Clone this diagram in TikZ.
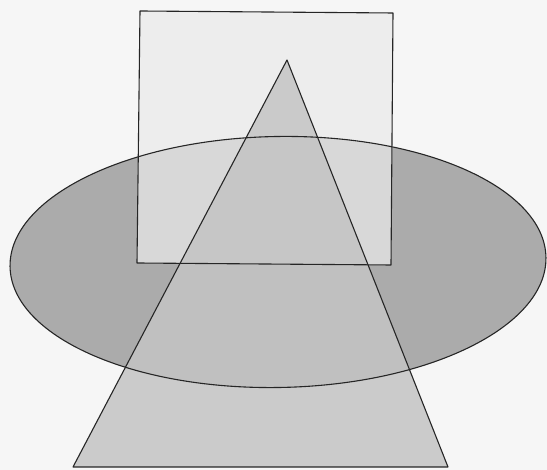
\documentclass[tikz,border=0pt]{standalone}
\begin{document}
\begin{tikzpicture}[x=1pt,y=1pt,
  outline/.style={draw=black!85,line width=1.1pt,line join=round},
]
\definecolor{bgc}{HTML}{F6F6F6}
\definecolor{ellc}{HTML}{ABABAB}
\definecolor{sqc}{HTML}{EAEAEA}
\definecolor{trc}{HTML}{C4C4C4}
\fill[bgc] (0,0) rectangle (547,470);
\useasboundingbox (0,0) rectangle (547,470);
% shapes
\coordinate (s1) at (140,459);
\coordinate (s2) at (393,457);
\coordinate (s3) at (391,205);
\coordinate (s4) at (137,207);
\coordinate (t1) at (287,410);
\coordinate (t2) at (73,3);
\coordinate (t3) at (448,3);
\coordinate (ec) at (278,208);
% fills
\fill[ellc] (ec) ellipse [x radius=268, y radius=125.5, rotate=1];
\fill[sqc, fill opacity=0.72] (s1) -- (s2) -- (s3) -- (s4) -- cycle;
\fill[trc, fill opacity=0.85] (t1) -- (t2) -- (t3) -- cycle;
% outlines
\draw[outline] (ec) ellipse [x radius=268, y radius=125.5, rotate=1];
\draw[outline] (s1) -- (s2) -- (s3) -- (s4) -- cycle;
\draw[outline] (t1) -- (t2) -- (t3) -- cycle;
\end{tikzpicture}
\end{document}
